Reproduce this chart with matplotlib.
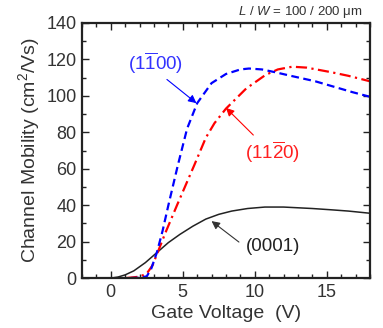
"""Channel mobility versus gate voltage for three SiC crystal faces."""

import numpy
from matplotlib import pyplot
from matplotlib.ticker import MultipleLocator

# Face (1-100), blue dashed.
vg_m = [-2.0, 1.0, 2.0, 2.5, 2.8, 3.2, 3.6, 4.0, 4.66, 5.3, 6.0, 7.0, 8.0,
        9.0, 9.6, 10.5, 11.4, 12.5, 14.2, 15.5, 16.8, 18.0]
mu_m = [0.0, 0.0, 0.2, 1.0, 5.0, 14.0, 26.0, 40.0, 62.0, 82.0, 96.0, 107.0,
        112.0, 114.5, 115.0, 114.5, 113.0, 111.0, 108.0, 105.0, 102.0, 99.5]

# Face (11-20), red dash-dot.
vg_a = [-2.0, 1.0, 2.0, 2.5, 2.9, 3.3, 3.8, 4.6, 5.2, 5.8, 6.6, 7.2, 8.0,
        9.4, 10.75, 11.6, 12.6, 13.6, 15.3, 16.5, 18.0]
mu_a = [0.0, 0.0, 0.8, 2.5, 7.0, 15.0, 25.0, 40.0, 51.0, 62.0, 77.0, 85.0,
        93.0, 104.0, 111.5, 114.5, 116.0, 115.5, 113.0, 111.0, 108.0]

# Face (0001), black solid.
vg_s = [-2.0, 0.0, 0.5, 1.0, 1.6, 2.4, 3.2, 4.0, 4.8, 5.7, 6.6, 7.5, 8.4,
        9.5, 10.7, 12.0, 13.0, 14.0, 15.3, 16.5, 18.0]
mu_s = [0.0, 0.0, 0.6, 1.8, 4.0, 8.5, 14.0, 19.5, 24.0, 28.5, 32.4, 35.0,
        36.8, 38.2, 39.0, 39.0, 38.6, 38.2, 37.5, 36.8, 35.6]

pyplot.rc('font', family=['Liberation Sans', 'DejaVu Sans'], size=13)
pyplot.rc('mathtext', fontset='custom', rm='Liberation Sans',
          it='Liberation Sans:italic', default='regular')

fig = pyplot.figure(figsize=(3.83, 3.28), dpi=100)
ax = fig.add_axes([0.214, 0.152, 0.752, 0.778])

ax.plot(vg_s, mu_s, color='#222222', lw=1.1, ls='-')
ax.plot(vg_a, mu_a, color='red', lw=1.6, ls=(0, (5, 2, 1, 2)))
ax.plot(vg_m, mu_m, color='blue', lw=1.6, ls=(0, (3.5, 2)))

ax.set_xlim(-2, 18)
ax.set_ylim(0, 140)
ax.xaxis.set_major_locator(MultipleLocator(5))
ax.xaxis.set_minor_locator(MultipleLocator(1))
ax.yaxis.set_major_locator(MultipleLocator(20))
ax.yaxis.set_minor_locator(MultipleLocator(10))
ax.tick_params(which='both', direction='in', top=True, right=True,
               colors='#222222', labelcolor='#333333', width=1.0)
ax.tick_params(which='major', length=5, pad=4)
ax.tick_params(which='minor', length=3)
for spine in ax.spines.values():
    spine.set_linewidth(1.6)
    spine.set_color('#222222')

ax.set_xlabel('Gate Voltage  (V)', color='#333333', fontsize=14, labelpad=3)
ax.set_ylabel('Channel Mobility (cm$^2$/Vs)', color='#333333', fontsize=14,
              labelpad=3)

fig.text(0.948, 0.962, '$\\mathit{L}$ / $\\mathit{W}$ = 100 / 200 \u03bcm',
         fontsize=9.5, ha='right', va='center', color='#333333')

# Face labels with pointer arrows.
ax.text(3.1, 118, r'(1$\overline{1}$00)', color='#3333ff', fontsize=13.5,
        ha='center', va='center')
ax.annotate('', xy=(5.95, 96), xytext=(3.9, 109),
            arrowprops=dict(arrowstyle='-|>', color='blue', lw=0.8,
                            shrinkA=0, shrinkB=0, mutation_scale=12))
ax.text(11.2, 69, r'(11$\overline{2}$0)', color='#ff2020', fontsize=13.5,
        ha='center', va='center')
ax.annotate('', xy=(8.0, 93.4), xytext=(9.9, 78.5),
            arrowprops=dict(arrowstyle='-|>', color='red', lw=0.8,
                            shrinkA=0, shrinkB=0, mutation_scale=12))
ax.text(11.3, 17.6, '(0001)', color='#222222', fontsize=13.5,
        ha='center', va='center')
ax.annotate('', xy=(7.0, 31.3), xytext=(8.9, 19.8),
            arrowprops=dict(arrowstyle='-|>', color='#333333', lw=0.8,
                            shrinkA=0, shrinkB=0, mutation_scale=12))

fig.savefig('out.png', dpi=100)
